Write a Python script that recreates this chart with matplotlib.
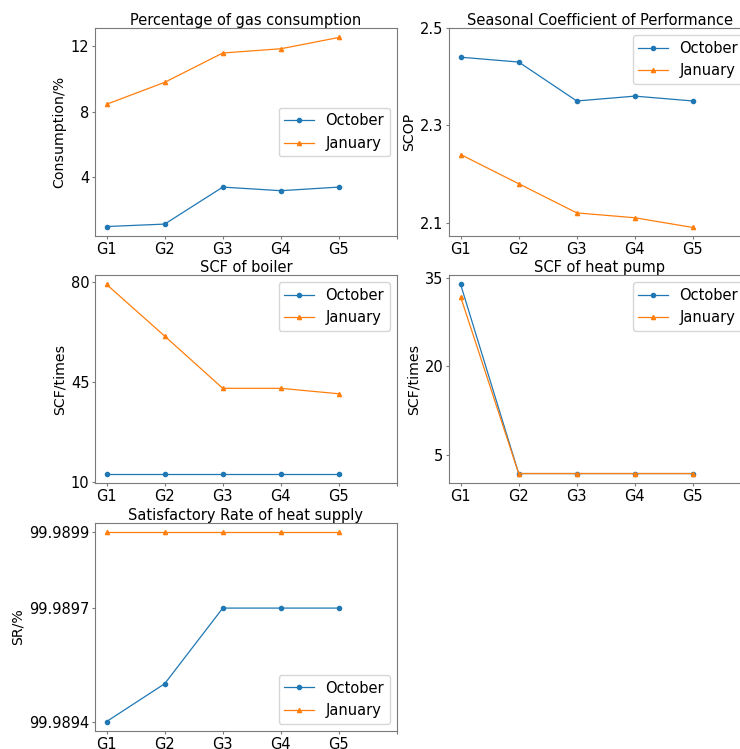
import matplotlib
matplotlib.use("Agg")
import matplotlib.pyplot as plt

groups = ["G1", "G2", "G3", "G4", "G5"]
series_names = ["October", "January"]

gas_oct = [0.98, 1.13, 3.39, 3.17, 3.39]
gas_jan = [8.45, 9.79, 11.58, 11.84, 12.53]
gas_ticks = [4, 8, 12]

scop_oct = [2.44, 2.43, 2.35, 2.36, 2.35]
scop_jan = [2.24, 2.18, 2.12, 2.11, 2.09]
scop_ticks = [2.1, 2.3, 2.5]

boiler_oct = [13.1, 13.1, 13.1, 13.1, 13.1]
boiler_jan = [79.0, 61.0, 42.8, 42.8, 40.9]
boiler_ticks = [10, 45, 80]

hp_oct = [33.9, 1.84, 1.84, 1.84, 1.84]
hp_jan = [31.8, 1.84, 1.84, 1.84, 1.84]
hp_ticks = [5, 20, 35]

sr_oct = [99.9894, 99.9895, 99.9897, 99.9897, 99.9897]
sr_jan = [99.9899, 99.9899, 99.9899, 99.9899, 99.9899]
sr_ticks = [99.9894, 99.9897, 99.9899]
sr_ticklabels = ["99.9894", "99.9897", "99.9899"]

panels = [
    ("Percentage of gas consumption", "Consumption/%", gas_oct, gas_jan, gas_ticks, None, "center right"),
    ("Seasonal Coefficient of Performance", "SCOP", scop_oct, scop_jan, scop_ticks, None, "upper right"),
    ("SCF of boiler", "SCF/times", boiler_oct, boiler_jan, boiler_ticks, None, "upper right"),
    ("SCF of heat pump", "SCF/times", hp_oct, hp_jan, hp_ticks, None, "upper right"),
    ("Satisfactory Rate of heat supply", "SR/%", sr_oct, sr_jan, sr_ticks, sr_ticklabels, "lower right"),
]

W, H = 740, 749
fig = plt.figure(figsize=(W / 100, H / 100), dpi=100)

col_left = [95, 449]
ax_w = 302
row_bottom = [236, 483, 731]
ax_h = 208

fs_tick = 10.5
fs_title = 10.5
fs_label = 10.2
fs_leg = 10.5
spine_color = "#7a7a7a"

for i, (title, ylabel, y_oct, y_jan, yt, ytl, loc) in enumerate(panels):
    r, c = divmod(i, 2)
    left = col_left[c] / W
    bottom = 1 - row_bottom[r] / H
    ax = fig.add_axes([left, bottom, ax_w / W, ax_h / H])
    x = list(range(len(groups)))
    ax.plot(x, y_oct, marker="o", markersize=3.0, linewidth=0.9, color="#1f77b4", label=series_names[0])
    ax.plot(x, y_jan, marker="^", markersize=3.0, linewidth=0.9, color="#ff7f0e", label=series_names[1])
    ax.set_xticks(list(range(len(groups) + 1)))
    ax.set_xticklabels(groups + [""], fontsize=fs_tick)
    ax.set_yticks(yt)
    if ytl is not None:
        ax.set_yticklabels(ytl, fontsize=fs_tick)
    else:
        ax.tick_params(axis="y", labelsize=fs_tick)
    ax.set_title(title, fontsize=fs_title, pad=2.5)
    ax.set_ylabel(ylabel, fontsize=fs_label, labelpad=3)
    ax.legend(loc=loc, fontsize=fs_leg)
    for s in ax.spines.values():
        s.set_color(spine_color)
    ax.tick_params(colors="black", length=2, pad=2, color=spine_color)

fig.savefig("out.png", dpi=100)
